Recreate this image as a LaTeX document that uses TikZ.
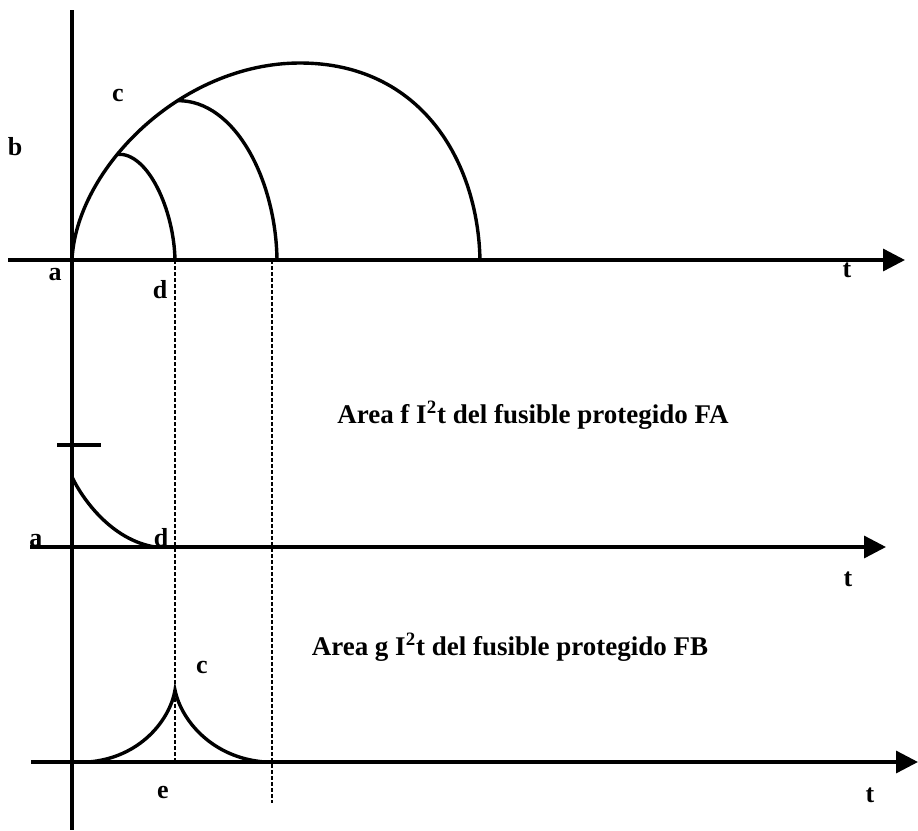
\documentclass[tikz,border=0pt]{standalone}
\usepackage{fontspec}
\setmainfont{Liberation Serif}
\usetikzlibrary{arrows.meta}

\begin{document}
\begin{tikzpicture}[
  x=0.5pt,y=-0.5pt,
  axis/.style={line width=1.7pt,-{Triangle[length=11pt,width=11pt]}},
  curve/.style={line width=1.7pt},
  guide/.style={line width=0.8pt,dash pattern=on 2pt off 1pt},
  lbl/.style={font=\fontsize{13}{15}\selectfont\bfseries,inner sep=0pt},
  caption/.style={font=\fontsize{13.5}{16}\selectfont\bfseries,inner sep=0pt}
]
\useasboundingbox (0,0) rectangle (918,831);
% axes
\coordinate (vtop) at (72,10);
\coordinate (vbot) at (72,830);
\coordinate (top0) at (8,260);
\coordinate (top1) at (905,260);
\coordinate (mid0) at (30,547);
\coordinate (mid1) at (886,547);
\coordinate (low0) at (31,762);
\coordinate (low1) at (918,762);
\draw[line width=1.7pt] (vtop) -- (vbot);
\draw[axis] (top0) -- (top1);
\draw[axis] (mid0) -- (mid1);
\draw[axis] (low0) -- (low1);
% upper panel
\coordinate (a1) at (72,260);
\coordinate (peak) at (300,63);
\coordinate (g1) at (480,260);
\coordinate (d1) at (175,260);
\coordinate (f1) at (277,260);
\draw[curve] (a1) .. controls (76,170) and (180,63) ..
  coordinate[pos=0.39] (c1) coordinate[pos=0.63] (c2) (peak)
  .. controls (420,63) and (478,160) .. (g1);
\draw[curve] (c1) .. controls (148,152) and (174,210) .. (d1);
\draw[curve] (c2) .. controls (235,100) and (276,180) .. (f1);
% guide lines
\coordinate (d3) at (175,762);
\coordinate (f2) at (272,260);
\coordinate (f3) at (272,803);
\draw[guide] (d1) -- (d3);
\draw[guide] (f2) -- (f3);
% middle panel
\coordinate (k1) at (57,445);
\coordinate (k2) at (101,445);
\coordinate (m1) at (72,477);
\coordinate (d2) at (155,547);
\draw[curve] (k1) -- (k2);
\draw[curve] (m1) .. controls (83,500) and (112,540) .. (d2);
% lower panel
\coordinate (e1) at (88,762);
\coordinate (cusp) at (175,690);
\coordinate (e2) at (265,762);
\draw[curve] (e1) .. controls (140,758) and (170,720) .. (cusp)
  .. controls (181,720) and (212,758) .. (e2);
% labels
\node[lbl] (lb) at (15,147) {b};
\node[lbl] (lc1) at (118,95) {c};
\node[lbl] (la1) at (55,275) {a};
\node[lbl] (ld1) at (160,290) {d};
\node[lbl] (lt1) at (847,270) {t};
\node[lbl] (la2) at (36,541) {a};
\node[lbl] (ld2) at (161,538) {d};
\node[lbl] (lt2) at (848,579) {t};
\node[lbl] (lc2) at (202,667) {c};
\node[lbl] (le) at (163,793) {e};
\node[lbl] (lt3) at (870,795) {t};
\node[caption] (areaFA) at (533,415) {Area f I\textsuperscript{2}t del fusible protegido FA};
\node[caption] (areaFB) at (510,647) {Area g I\textsuperscript{2}t del fusible protegido FB};
\end{tikzpicture}
\end{document}
